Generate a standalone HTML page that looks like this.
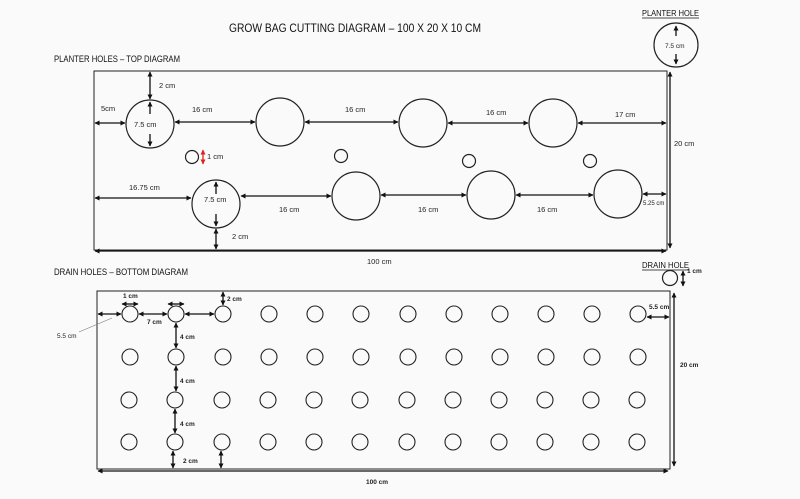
<!DOCTYPE html>
<html><head><meta charset="utf-8"><style>
html,body{margin:0;padding:0;background:#fafafa;}
svg{display:block;font-family:"Liberation Sans",sans-serif;}
</style></head><body>
<svg width="800" height="499" viewBox="0 0 800 499" xmlns="http://www.w3.org/2000/svg">
<defs>
<marker id="a" viewBox="0 0 10 10" refX="9" refY="5" markerWidth="4" markerHeight="4" orient="auto-start-reverse"><path d="M0,0 L10,5 L0,10 z" fill="#111"/></marker>
<marker id="r" viewBox="0 0 10 10" refX="9" refY="5" markerWidth="4" markerHeight="4" orient="auto-start-reverse"><path d="M0,0 L10,5 L0,10 z" fill="#d22"/></marker>
</defs>
<rect width="800" height="499" fill="#fafafa"/>
<g fill="#111">
<text x="229" y="32" font-size="11.5" textLength="252" lengthAdjust="spacingAndGlyphs">GROW BAG CUTTING DIAGRAM – 100 X 20 X 10 CM</text>
<text x="54" y="62" font-size="9" textLength="126" lengthAdjust="spacingAndGlyphs">PLANTER HOLES – TOP DIAGRAM</text>
<text x="54" y="275" font-size="9" textLength="134" lengthAdjust="spacingAndGlyphs">DRAIN HOLES – BOTTOM DIAGRAM</text>
<text x="642" y="16" font-size="8.5" textLength="57" lengthAdjust="spacingAndGlyphs">PLANTER HOLE</text>
<text x="642" y="268" font-size="8.5" textLength="47" lengthAdjust="spacingAndGlyphs">DRAIN HOLE</text>
</g>
<line x1="642" y1="18" x2="699" y2="18" stroke="#111" stroke-width="0.8"/>
<line x1="642" y1="270" x2="689" y2="270" stroke="#111" stroke-width="0.8"/>

<g fill="none" stroke="#222" stroke-width="1.2">
<rect x="94" y="71" width="573" height="179" stroke-width="1"/>
<circle cx="676" cy="45" r="22"/>
<circle cx="150" cy="124" r="24"/><circle cx="280" cy="122" r="24"/><circle cx="423" cy="123" r="24"/><circle cx="553" cy="123" r="24"/>
<circle cx="216" cy="204" r="24"/><circle cx="356" cy="196" r="24"/><circle cx="491" cy="195" r="24"/><circle cx="618" cy="194" r="24"/>
<circle cx="192" cy="157" r="6.5"/><circle cx="341" cy="156" r="6.5"/><circle cx="469" cy="161" r="6.5"/><circle cx="590" cy="161" r="6.5"/>
<rect x="97" y="291" width="573" height="178" stroke-width="1"/>
<circle cx="670" cy="278" r="7.5"/>
</g>

<g fill="none" stroke="#222" stroke-width="1.1">
<circle cx="130" cy="314" r="8"/><circle cx="176" cy="314" r="8"/><circle cx="223" cy="314" r="8"/><circle cx="269" cy="314" r="8"/><circle cx="315" cy="314" r="8"/><circle cx="361" cy="314" r="8"/><circle cx="408" cy="314" r="8"/><circle cx="454" cy="314" r="8"/><circle cx="500" cy="314" r="8"/><circle cx="546" cy="314" r="8"/><circle cx="592" cy="314" r="8"/><circle cx="638" cy="314" r="8"/>
<circle cx="130" cy="357" r="8"/><circle cx="176" cy="357" r="8"/><circle cx="223" cy="357" r="8"/><circle cx="269" cy="357" r="8"/><circle cx="315" cy="357" r="8"/><circle cx="361" cy="357" r="8"/><circle cx="408" cy="357" r="8"/><circle cx="454" cy="357" r="8"/><circle cx="500" cy="357" r="8"/><circle cx="546" cy="357" r="8"/><circle cx="592" cy="357" r="8"/><circle cx="638" cy="357" r="8"/>
<circle cx="129" cy="400" r="8"/><circle cx="175" cy="400" r="8"/><circle cx="222" cy="400" r="8"/><circle cx="268" cy="400" r="8"/><circle cx="314" cy="400" r="8"/><circle cx="360" cy="400" r="8"/><circle cx="407" cy="400" r="8"/><circle cx="453" cy="400" r="8"/><circle cx="499" cy="400" r="8"/><circle cx="545" cy="400" r="8"/><circle cx="591" cy="400" r="8"/><circle cx="637" cy="400" r="8"/>
<circle cx="129" cy="442" r="8"/><circle cx="175" cy="442" r="8"/><circle cx="222" cy="442" r="8"/><circle cx="268" cy="442" r="8"/><circle cx="314" cy="442" r="8"/><circle cx="360" cy="442" r="8"/><circle cx="407" cy="442" r="8"/><circle cx="453" cy="442" r="8"/><circle cx="499" cy="442" r="8"/><circle cx="545" cy="442" r="8"/><circle cx="591" cy="442" r="8"/><circle cx="637" cy="442" r="8"/>
</g>

<g stroke="#111" stroke-width="1.3" marker-start="url(#a)" marker-end="url(#a)">
<line x1="150" y1="72" x2="150" y2="99"/>
<line x1="95" y1="123" x2="125" y2="123"/>
<line x1="175" y1="122" x2="255" y2="122"/>
<line x1="305" y1="122" x2="398" y2="122"/>
<line x1="448" y1="123" x2="528" y2="123"/>
<line x1="578" y1="123" x2="666" y2="123"/>
<line x1="95" y1="198" x2="191" y2="198"/>
<line x1="241" y1="196" x2="331" y2="196"/>
<line x1="381" y1="195" x2="466" y2="195"/>
<line x1="516" y1="195" x2="593" y2="195"/>
<line x1="643" y1="194" x2="666" y2="194"/>
<line x1="216" y1="229" x2="216" y2="249"/>
<line x1="95" y1="251" x2="666" y2="251"/>
<line x1="670" y1="72" x2="670" y2="248"/>
<line x1="98" y1="314" x2="121" y2="314"/>
<line x1="122" y1="304" x2="138" y2="304"/>
<line x1="168" y1="304" x2="184" y2="304"/>
<line x1="139" y1="314" x2="167" y2="314"/>
<line x1="185" y1="314" x2="214" y2="314"/>
<line x1="223" y1="292" x2="223" y2="305"/>
<line x1="176" y1="323" x2="176" y2="348"/>
<line x1="176" y1="366" x2="176" y2="391"/>
<line x1="175" y1="409" x2="175" y2="433"/>
<line x1="173" y1="451" x2="173" y2="468"/>
<line x1="221" y1="451" x2="221" y2="468"/>
<line x1="647" y1="317" x2="669" y2="317"/>
<line x1="683" y1="271" x2="683" y2="286"/>
<line x1="98" y1="471" x2="668" y2="471"/>
<line x1="674" y1="293" x2="674" y2="466"/>
<line x1="676" y1="36" x2="676" y2="26" marker-start="none"/>
<line x1="676" y1="54" x2="676" y2="64" marker-start="none"/>
<line x1="150" y1="114" x2="150" y2="102" marker-start="none"/>
<line x1="150" y1="134" x2="150" y2="146" marker-start="none"/>
<line x1="216" y1="194" x2="216" y2="182" marker-start="none"/>
<line x1="216" y1="214" x2="216" y2="226" marker-start="none"/>
</g>
<line x1="203" y1="150" x2="203" y2="164" stroke="#d22" stroke-width="1.3" marker-start="url(#r)" marker-end="url(#r)"/>
<line x1="79" y1="332" x2="112" y2="318" stroke="#777" stroke-width="0.6"/>

<g fill="#222" font-size="7.5">
<text x="159" y="88">2 cm</text>
<text x="101" y="111">5cm</text>
<text x="134" y="127">7.5 cm</text>
<text x="192" y="112">16 cm</text>
<text x="345" y="112">16 cm</text>
<text x="486" y="115">16 cm</text>
<text x="615" y="117">17 cm</text>
<text x="207" y="159">1 cm</text>
<text x="129" y="190">16.75 cm</text>
<text x="204" y="202">7.5 cm</text>
<text x="279" y="212">16 cm</text>
<text x="418" y="212">16 cm</text>
<text x="537" y="212">16 cm</text>
<text x="643" y="205" font-size="6">5.25 cm</text>
<text x="232" y="239">2 cm</text>
<text x="367" y="264">100 cm</text>
<text x="674" y="146">20 cm</text>
<text x="665" y="48" font-size="6.5">7.5 cm</text>
<g font-size="6.5" font-weight="bold">
<text x="123" y="298">1 cm</text>
<text x="147" y="324">7 cm</text>
<text x="227" y="301">2 cm</text>
<text x="180" y="339">4 cm</text>
<text x="180" y="383">4 cm</text>
<text x="180" y="426">4 cm</text>
<text x="183" y="463">2 cm</text>
<text x="649" y="309">5.5 cm</text>
<text x="687" y="273">1 cm</text>
<text x="680" y="367">20 cm</text>
<text x="366" y="484">100 cm</text>
</g>
<text x="57" y="338" font-size="6.5">5.5 cm</text>
</g>
</svg>
</body></html>
